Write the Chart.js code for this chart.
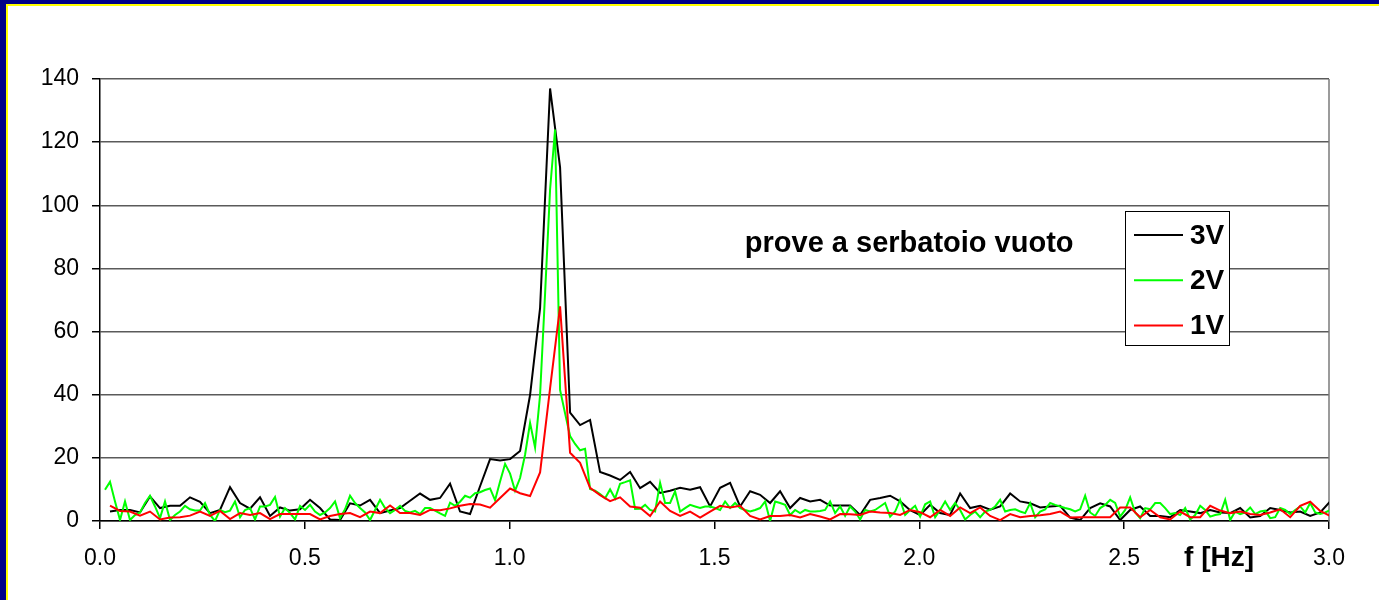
<!DOCTYPE html>
<html>
<head>
<meta charset="utf-8">
<title>prove a serbatoio vuoto</title>
<script src="https://cdn.jsdelivr.net/npm/chart.js@4.4.1/dist/chart.umd.min.js"></script>
<style>
  html, body { margin: 0; padding: 0; background: #fff; }
  body { width: 1379px; height: 600px; position: relative; overflow: hidden; }
  #chart { position: absolute; left: 0; top: 0; }
  .band { position: absolute; }
  #navy-top { left: 0; top: 0; width: 1379px; height: 4px; background: #000088; }
  #navy-left { left: 0; top: 0; width: 6px; height: 600px; background: #000088; }
  #yellow-top { left: 6px; top: 4px; width: 1373px; height: 2px; background: #ffff00; }
  #yellow-left { left: 6px; top: 4px; width: 2px; height: 596px; background: #ffff00; }
</style>
</head>
<body>
<canvas id="chart" width="1379" height="600"></canvas>
<div class="band" id="navy-top"></div>
<div class="band" id="navy-left"></div>
<div class="band" id="yellow-top"></div>
<div class="band" id="yellow-left"></div>
<script>
// risoluzione in frequenza delle FFT (bin per Hz)
const BINS_COARSE = 40.96; // prove 3V e 1V
const BINS_FINE = 81.92;   // prova 2V

// ampiezze, a partire dal primo bin (f = 1 / bins)
const amp3V = [
  3.0, 3.5, 3.5, 2.7, 7.8, 4.1, 4.8, 4.8, 7.5, 6.1,
  2.5, 3.5, 10.7, 5.7, 3.9, 7.5, 1.6, 4.3, 3.3, 3.7,
  6.7, 4.1, 0.5, 0.3, 5.6, 4.9, 6.7, 2.5, 3.3, 4.1,
  6.4, 8.7, 6.7, 7.3, 11.8, 3.0, 2.2, 11.0, 19.6, 19.2,
  19.6, 22.2, 39.9, 67.4, 137.0, 112.0, 34.3, 30.4, 32.0, 15.5,
  14.4, 13.0, 15.5, 10.4, 12.4, 8.9, 9.6, 10.5, 9.9, 10.7,
  4.6, 10.5, 12.1, 4.6, 9.4, 8.3, 5.7, 9.4, 4.1, 7.3,
  6.2, 6.7, 4.9, 4.9, 4.9, 1.9, 6.7, 7.3, 8.0, 6.2,
  3.4, 1.9, 5.1, 2.5, 1.9, 8.7, 4.1, 4.8, 3.6, 4.6,
  8.7, 6.2, 5.6, 4.3, 4.6, 4.8, 1.1, 0.3, 4.1, 5.6,
  4.6, 0.3, 3.5, 4.6, 1.6, 1.6, 1.2, 3.5, 3.0, 2.5,
  3.5, 2.7, 2.5, 4.1, 1.1, 1.6, 4.1, 3.5, 2.7, 3.0,
  1.6, 2.7, 6.2
];

const amp2V = [
  9.9, 12.4, 6.2, 0.3, 6.2, 0.3, 1.9, 2.7, 5.7, 8.0,
  4.6, 0.9, 6.2, 0.3, 1.9, 3.0, 4.8, 3.7, 3.3, 3.3,
  5.7, 1.9, 0.0, 3.5, 2.8, 3.3, 6.2, 1.2, 3.5, 4.1,
  0.5, 4.6, 4.6, 5.1, 7.6, 1.4, 4.1, 2.5, 0.5, 4.8,
  3.5, 5.1, 3.0, 1.9, 2.7, 4.1, 6.2, 0.9, 3.7, 8.0,
  5.7, 4.1, 2.7, 0.3, 3.5, 6.7, 4.1, 2.5, 3.5, 4.8,
  3.2, 2.7, 3.2, 2.2, 4.1, 4.1, 3.3, 2.4, 1.6, 5.8,
  4.8, 6.1, 8.0, 7.4, 8.8, 9.1, 9.8, 10.3, 6.6, 12.5,
  18.1, 15.0, 9.6, 13.6, 21.0, 31.1, 23.3, 39.9, 72.0, 105.0,
  124.0, 41.5, 34.1, 26.9, 24.4, 22.4, 22.9, 10.1, 9.6, 8.5,
  7.2, 10.0, 7.1, 11.8, 12.3, 12.9, 3.8, 3.9, 5.1, 3.5,
  3.0, 12.1, 5.7, 5.7, 9.4, 3.0, 4.1, 5.1, 4.6, 4.1,
  4.6, 4.6, 4.1, 3.5, 6.2, 4.1, 5.7, 4.1, 3.5, 3.0,
  3.5, 4.1, 6.2, 0.0, 6.2, 5.7, 5.1, 1.9, 3.5, 2.5,
  3.5, 3.0, 3.0, 3.2, 3.5, 6.2, 2.5, 4.6, 1.6, 4.6,
  3.0, 0.5, 3.5, 3.0, 3.5, 4.6, 5.7, 1.4, 3.0, 6.7,
  1.9, 3.5, 4.8, 1.4, 5.3, 6.2, 1.2, 3.5, 6.2, 3.5,
  5.7, 3.5, 0.5, 1.9, 3.0, 1.2, 3.0, 3.5, 4.6, 6.7,
  3.0, 3.5, 3.7, 3.0, 2.5, 5.7, 1.2, 3.0, 3.7, 5.7,
  5.1, 4.6, 4.1, 3.7, 3.0, 3.7, 8.0, 2.7, 1.6, 4.1,
  5.1, 6.7, 5.7, 1.4, 3.5, 7.5, 2.7, 0.9, 4.1, 3.7,
  5.7, 5.7, 4.1, 2.2, 2.5, 1.9, 4.1, 0.5, 1.9, 4.8,
  3.5, 1.4, 1.9, 2.2, 6.7, 0.3, 3.0, 2.2, 2.7, 4.3,
  2.2, 3.0, 3.3, 0.9, 1.2, 4.1, 3.5, 2.2, 3.5, 4.6,
  2.7, 5.7, 2.7, 2.2, 2.7, 3.5
];

const amp1V = [
  4.9, 3.2, 3.0, 1.7, 3.0, 0.5, 1.1, 1.2, 1.7, 3.0,
  1.6, 3.2, 0.6, 2.5, 1.9, 2.5, 0.6, 2.2, 2.2, 2.2,
  2.2, 0.5, 1.6, 2.2, 2.5, 1.2, 3.0, 2.5, 4.9, 2.5,
  2.5, 1.9, 3.5, 3.4, 4.0, 4.8, 5.4, 5.2, 4.2, 7.3,
  10.3, 8.8, 7.9, 15.4, 42.0, 68.0, 21.6, 18.4, 10.5, 8.2,
  6.3, 7.5, 4.6, 4.2, 1.6, 6.2, 3.2, 1.6, 3.0, 1.1,
  3.0, 4.8, 4.3, 4.8, 1.6, 0.5, 1.6, 1.6, 1.9, 1.1,
  2.2, 1.4, 0.5, 2.2, 2.1, 1.9, 3.0, 2.7, 2.5, 1.9,
  3.5, 2.8, 1.2, 3.5, 1.6, 4.3, 2.5, 4.3, 1.6, 0.3,
  2.2, 1.2, 1.6, 1.8, 2.2, 3.0, 1.1, 1.2, 1.2, 1.2,
  1.2, 4.3, 4.3, 1.2, 3.5, 1.2, 0.5, 3.0, 1.2, 1.2,
  4.8, 3.3, 2.5, 3.0, 2.2, 1.9, 2.7, 3.7, 1.2, 4.8,
  6.1, 3.2, 1.6
];

const seriesLabels = ['3V', '2V', '1V'];
const seriesColors = ['#000000', '#00ff00', '#ff0000'];

const xTicks = [0, 0.5, 1.0, 1.5, 2.0, 2.5, 3.0];
const yTicks = [0, 20, 40, 60, 80, 100, 120, 140];

const chartTitle = 'prove a serbatoio vuoto';
const xAxisTitle = 'f [Hz]';

const FONT = '"Liberation Sans", Arial, Helvetica, sans-serif';

function toPoints(values, binsPerHz) {
  return values.map((v, i) => ({ x: (i + 1) / binsPerHz, y: v }));
}

// bordo destro dell'area del grafico + scritte
const frameAndText = {
  id: 'frameAndText',
  beforeDatasetsDraw(chart) {
    const { ctx, chartArea } = chart;
    ctx.save();
    ctx.strokeStyle = '#7a7a7a';
    ctx.lineWidth = 1.5;
    ctx.beginPath();
    ctx.moveTo(chartArea.right, chartArea.top);
    ctx.lineTo(chartArea.right, chartArea.bottom);
    ctx.stroke();
    ctx.restore();
  },
  afterDraw(chart) {
    const { ctx, chartArea, scales } = chart;
    ctx.save();
    ctx.fillStyle = '#000';
    ctx.textBaseline = 'alphabetic';

    // titolo dentro il grafico
    ctx.font = 'bold 29px ' + FONT;
    ctx.textAlign = 'left';
    ctx.fillText(chartTitle, scales.x.getPixelForValue(1.574), scales.y.getPixelForValue(85.2));

    // etichetta asse x
    ctx.font = 'bold 28px ' + FONT;
    ctx.textAlign = 'right';
    ctx.fillText(xAxisTitle, scales.x.getPixelForValue(2.817), chartArea.bottom + 45);

    // legenda
    const box = { left: chartArea.right - 204, top: 211, width: 104, height: 134 };
    ctx.fillStyle = '#fff';
    ctx.fillRect(box.left, box.top, box.width, box.height);
    ctx.strokeStyle = '#000';
    ctx.lineWidth = 1;
    ctx.strokeRect(box.left + 0.5, box.top + 0.5, box.width, box.height);

    chart.data.datasets.forEach((ds, i) => {
      const y = box.top + 24 + i * 45.3;
      ctx.strokeStyle = ds.borderColor;
      ctx.lineWidth = 2;
      ctx.beginPath();
      ctx.moveTo(box.left + 9, y);
      ctx.lineTo(box.left + 58, y);
      ctx.stroke();
      ctx.fillStyle = '#000';
      ctx.textAlign = 'left';
      ctx.textBaseline = 'middle';
      ctx.fillText(ds.label, box.left + 65, y + 1);
    });
    ctx.restore();
  }
};

Chart.defaults.font.family = FONT;
Chart.defaults.font.size = 23;
Chart.defaults.color = '#000';

const ctx = document.getElementById('chart').getContext('2d');
new Chart(ctx, {
  type: 'line',
  data: {
    datasets: [
      { label: seriesLabels[0], data: toPoints(amp3V, BINS_COARSE), borderColor: seriesColors[0], order: 2 },
      { label: seriesLabels[1], data: toPoints(amp2V, BINS_FINE), borderColor: seriesColors[1], order: 1 },
      { label: seriesLabels[2], data: toPoints(amp1V, BINS_COARSE), borderColor: seriesColors[2], order: 0 }
    ]
  },
  options: {
    responsive: false,
    animation: false,
    devicePixelRatio: 1,
    layout: { padding: { top: 79, right: 50, bottom: 0, left: 0 } },
    elements: {
      line: { borderWidth: 2, tension: 0, fill: false },
      point: { radius: 0, hoverRadius: 0 }
    },
    plugins: {
      legend: { display: false },
      tooltip: { enabled: false }
    },
    scales: {
      x: {
        type: 'linear',
        min: 0,
        max: 3,
        afterBuildTicks: scale => { scale.ticks = xTicks.map(v => ({ value: v })); },
        afterFit: scale => { scale.height = 79; },
        ticks: {
          padding: 16,
          maxRotation: 0,
          autoSkip: false,
          callback: v => Number(v).toFixed(1)
        },
        grid: {
          drawOnChartArea: false,
          drawTicks: true,
          tickLength: 8,
          tickColor: '#000',
          lineWidth: 1.5
        },
        border: { display: true, color: '#000', width: 1.5 }
      },
      y: {
        min: 0,
        max: 140,
        afterBuildTicks: scale => { scale.ticks = yTicks.map(v => ({ value: v })); },
        afterFit: scale => { scale.width = 100; },
        ticks: { padding: 13, autoSkip: false },
        grid: {
          color: '#5a5a5a',
          lineWidth: 1.5,
          drawTicks: true,
          tickLength: 8,
          tickColor: '#000'
        },
        border: { display: true, color: '#000', width: 1.5 }
      }
    }
  },
  plugins: [frameAndText]
});
</script>
</body>
</html>
